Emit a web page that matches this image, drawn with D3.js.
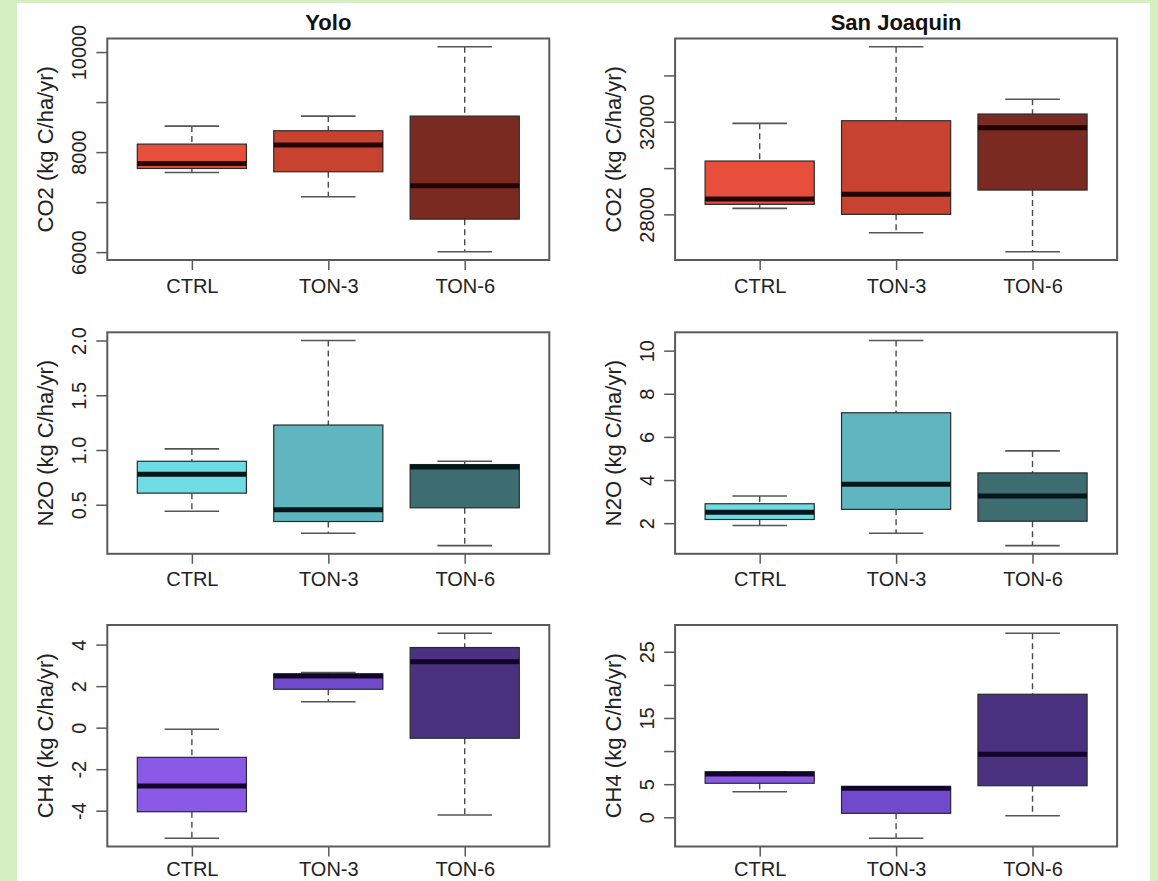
<!DOCTYPE html>
<html>
<head>
<meta charset="utf-8">
<script src="https://cdn.jsdelivr.net/npm/d3@7"></script>
<style>
body { margin: 0; background: #d5efc3; }
svg { display: block; font-family: "Liberation Sans", Arial, sans-serif; }
.frame { fill: none; stroke: #5a5a5a; stroke-width: 2; }
.axis path { display: none; }
.axis line { stroke: #5a5a5a; stroke-width: 1.5; }
.axis text { font-size: 20px; fill: #222; }
.whisker { stroke: #4a4a4a; stroke-width: 1.4; stroke-dasharray: 6,4; }
.cap { stroke: #555; stroke-width: 1.6; }
.box { stroke: #2a2a2a; stroke-width: 1.2; }
.median { stroke-width: 5; }
.ylab { font-size: 22px; fill: #222; }
.title { font-size: 22px; font-weight: bold; fill: #111; }
</style>
</head>
<body>
<div id="chart"></div>
<script>
var width = 1158;
var height = 881;

var groups = ["CTRL", "TON-3", "TON-6"];
var sites = ["Yolo", "San Joaquin"];
var gasLabels = ["CO2 (kg C/ha/yr)", "N2O (kg C/ha/yr)", "CH4 (kg C/ha/yr)"];

// each box: [min, q1, median, q3, max]
var yoloCO2 = [[7593, 7673, 7773, 8160, 8520], [7107, 7607, 8140, 8427, 8720], [6007, 6660, 7327, 8720, 10107]];
var sjCO2 = [[28259, 28432, 28661, 30303, 31931], [27205, 28000, 28864, 32044, 35240], [26384, 29050, 31741, 32333, 32968]];
var yoloN2O = [[0.441, 0.606, 0.778, 0.897, 1.01], [0.24, 0.347, 0.454, 1.228, 2.0], [0.127, 0.472, 0.845, 0.867, 0.897]];
var sjN2O = [[1.89, 2.17, 2.51, 2.90, 3.26], [1.53, 2.64, 3.80, 7.12, 10.47], [0.96, 2.09, 3.26, 4.33, 5.35]];
var yoloCH4 = [[-5.33, -4.05, -2.81, -1.43, -0.08], [1.25, 1.85, 2.49, 2.59, 2.65], [-4.21, -0.51, 3.18, 3.86, 4.55]];
var sjCH4 = [[3.87, 5.14, 6.54, 6.87, 6.87], [-3.17, 0.60, 4.38, 4.62, 4.62], [0.24, 4.77, 9.52, 18.58, 27.8]];

// tick values and their labels ("" = tick without label)
var yoloCO2Ticks = [6000, 7000, 8000, 9000, 10000];
var yoloCO2TickLabels = ["6000", "", "8000", "", "10000"];
var sjCO2Ticks = [28000, 30000, 32000, 34000];
var sjCO2TickLabels = ["28000", "", "32000", ""];
var yoloN2OTicks = [0.5, 1.0, 1.5, 2.0];
var yoloN2OTickLabels = ["0.5", "1.0", "1.5", "2.0"];
var sjN2OTicks = [2, 4, 6, 8, 10];
var sjN2OTickLabels = ["2", "4", "6", "8", "10"];
var yoloCH4Ticks = [-4, -2, 0, 2, 4];
var yoloCH4TickLabels = ["-4", "-2", "0", "2", "4"];
var sjCH4Ticks = [0, 5, 10, 15, 20, 25];
var sjCH4TickLabels = ["0", "5", "", "15", "", "25"];

var co2Colors = ["#e84e3c", "#c8432f", "#7a2a21"];
var n2oColors = ["#6fdbe3", "#60b6bf", "#3e6d71"];
var ch4Colors = ["#8a5ae6", "#7149cb", "#4a3280"];
var medianColors = ["#200400", "#03161c", "#12052a"];

var colX = [107.3, 675.1];
var rowY = [38.5, 332.3, 625];
var plotW = 442;
var plotH = 221.5;

var panels = [
  {col: 0, row: 0, data: yoloCO2, ticks: yoloCO2Ticks, labels: yoloCO2TickLabels, colors: co2Colors},
  {col: 1, row: 0, data: sjCO2, ticks: sjCO2Ticks, labels: sjCO2TickLabels, colors: co2Colors},
  {col: 0, row: 1, data: yoloN2O, ticks: yoloN2OTicks, labels: yoloN2OTickLabels, colors: n2oColors},
  {col: 1, row: 1, data: sjN2O, ticks: sjN2OTicks, labels: sjN2OTickLabels, colors: n2oColors},
  {col: 0, row: 2, data: yoloCH4, ticks: yoloCH4Ticks, labels: yoloCH4TickLabels, colors: ch4Colors},
  {col: 1, row: 2, data: sjCH4, ticks: sjCH4Ticks, labels: sjCH4TickLabels, colors: ch4Colors}
];

var svg;

function drawPanel(p){
  var g = svg.append("g")
             .attr("transform", "translate(" + colX[p.col] + "," + rowY[p.row] + ")");

  // R style: data range padded by 4% on each side
  var lo = d3.min(p.data, function(d){ return d[0]; });
  var hi = d3.max(p.data, function(d){ return d[4]; });
  var pad = (hi - lo) * 0.04;

  var yScale = d3.scaleLinear()
                 .domain([lo - pad, hi + pad])
                 .range([plotH, 0]);

  var xScale = d3.scaleLinear()
                 .domain([0.38, 3.62])
                 .range([0, plotW]);

  var unit = xScale(2) - xScale(1);
  var boxW = unit * 0.8;

  var boxes = g.selectAll(".grp")
               .data(p.data)
               .enter()
               .append("g")
               .attr("class", "grp");

  // dashed whiskers
  boxes.append("line")
       .attr("class", "whisker")
       .attr("x1", function(d, i){ return xScale(i + 1); })
       .attr("x2", function(d, i){ return xScale(i + 1); })
       .attr("y1", function(d){ return yScale(d[4]); })
       .attr("y2", function(d){ return yScale(d[3]); });
  boxes.append("line")
       .attr("class", "whisker")
       .attr("x1", function(d, i){ return xScale(i + 1); })
       .attr("x2", function(d, i){ return xScale(i + 1); })
       .attr("y1", function(d){ return yScale(d[1]); })
       .attr("y2", function(d){ return yScale(d[0]); });

  // whisker caps
  [0, 4].forEach(function(k){
    boxes.append("line")
         .attr("class", "cap")
         .attr("x1", function(d, i){ return xScale(i + 1) - boxW / 4; })
         .attr("x2", function(d, i){ return xScale(i + 1) + boxW / 4; })
         .attr("y1", function(d){ return yScale(d[k]); })
         .attr("y2", function(d){ return yScale(d[k]); });
  });

  boxes.append("rect")
       .attr("class", "box")
       .attr("x", function(d, i){ return xScale(i + 1) - boxW / 2; })
       .attr("width", boxW)
       .attr("y", function(d){ return yScale(d[3]); })
       .attr("height", function(d){ return yScale(d[1]) - yScale(d[3]); })
       .attr("fill", function(d, i){ return p.colors[i]; });

  boxes.append("line")
       .attr("class", "median")
       .attr("stroke", medianColors[p.row])
       .attr("x1", function(d, i){ return xScale(i + 1) - boxW / 2; })
       .attr("x2", function(d, i){ return xScale(i + 1) + boxW / 2; })
       .attr("y1", function(d){ return yScale(d[2]); })
       .attr("y2", function(d){ return yScale(d[2]); });

  var yAxis = d3.axisLeft(yScale)
                .tickValues(p.ticks)
                .tickSize(11)
                .tickFormat(function(d, i){ return p.labels[i]; });

  var ya = g.append("g")
            .attr("class", "axis")
            .call(yAxis);
  ya.selectAll("text")
    .attr("transform", "rotate(-90)")
    .attr("x", 0)
    .attr("y", -21)
    .attr("dy", 0)
    .attr("text-anchor", "middle");

  // bottom row sits right at the page edge, pull its labels up a touch
  var xAxis = d3.axisBottom(xScale)
                .tickValues([1, 2, 3])
                .tickSize(10)
                .tickPadding(p.row === 2 ? 5 : 8.5)
                .tickFormat(function(d){ return groups[d - 1]; });

  g.append("g")
   .attr("class", "axis")
   .attr("transform", "translate(0," + plotH + ")")
   .call(xAxis);

  g.append("rect")
   .attr("class", "frame")
   .attr("width", plotW)
   .attr("height", plotH);

  g.append("text")
   .attr("class", "ylab")
   .attr("transform", "translate(-54," + (plotH / 2) + ") rotate(-90)")
   .attr("text-anchor", "middle")
   .text(gasLabels[p.row]);

  if (p.row === 0) {
    g.append("text")
     .attr("class", "title")
     .attr("x", plotW / 2)
     .attr("y", -8.5)
     .attr("text-anchor", "middle")
     .text(sites[p.col]);
  }
}

function init(){
  svg = d3.select("#chart")
          .append("svg")
          .attr("width", width)
          .attr("height", height);

  svg.append("rect")
     .attr("x", 17)
     .attr("y", 3)
     .attr("width", 1133)
     .attr("height", height)
     .attr("fill", "#ffffff");

  panels.forEach(drawPanel);
}

window.onload = init;
</script>
</body>
</html>
